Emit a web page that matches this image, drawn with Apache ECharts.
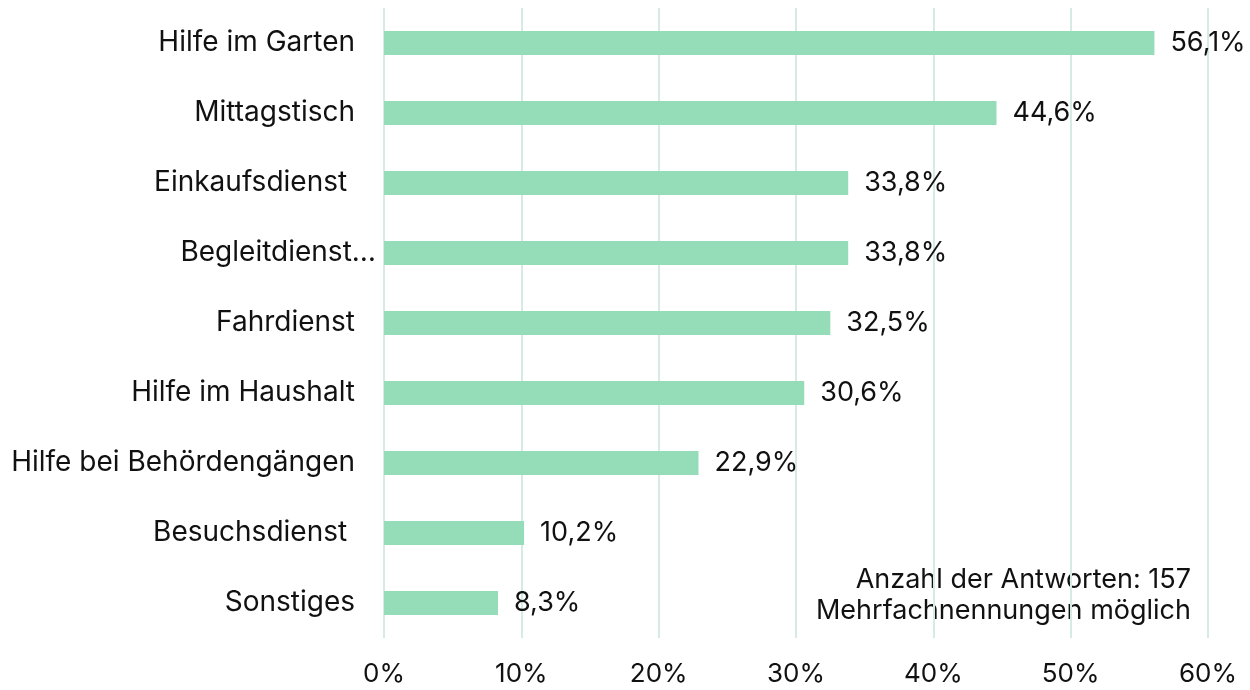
<!DOCTYPE html>
<html>
<head>
    <meta charset="utf-8"/>
    <title>Unterstützungsangebote</title>
    <script src="https://cdn.jsdelivr.net/npm/echarts@6/dist/echarts.min.js"></script>
    <style>
        html, body { margin: 0; padding: 0; background: #fff; }
        #main { width: 1250px; height: 690px; }
    </style>
</head>
<body>
<div id="main"></div>
<script type="text/javascript">
    // Daten (von unten nach oben wie im Bild gezeichnet)
    var categories = ['Sonstiges', 'Besuchsdienst ', 'Hilfe bei Behördengängen', 'Hilfe im Haushalt',
        'Fahrdienst', 'Begleitdienst…', 'Einkaufsdienst ', 'Mittagstisch', 'Hilfe im Garten'];
    var values = [8.3, 10.2, 22.9, 30.6, 32.5, 33.8, 33.8, 44.6, 56.1];
    var xTicks = [0, 10, 20, 30, 40, 50, 60];
    var noteLines = ['Anzahl der Antworten: 157', 'Mehrfachnennungen möglich'];

    var fontFamily = 'Inter, "Noto Sans", sans-serif';
    var myChart = echarts.init(document.getElementById('main'));

    var catData = categories.map(function (c) {
        if (c === 'Begleitdienst…') {
            return { value: c, textStyle: { padding: [0, -21, 0, 0] } };
        }
        return c;
    });

    myChart.setOption({
        animation: false,
        grid: { left: 384, right: 42, top: 8, bottom: 52 },
        xAxis: {
            type: 'value',
            min: xTicks[0],
            max: xTicks[xTicks.length - 1],
            interval: 10,
            axisLine: { show: false },
            axisTick: { show: false },
            splitLine: { show: true, lineStyle: { color: '#d5ebe3', width: 2 } },
            axisLabel: {
                formatter: '{value}%',
                margin: 23,
                color: '#111',
                fontSize: 26,
                fontFamily: fontFamily
            }
        },
        yAxis: {
            type: 'category',
            data: catData,
            axisLine: { show: false },
            axisTick: { show: false },
            axisLabel: {
                margin: 29,
                color: '#111',
                fontSize: 28,
                fontFamily: fontFamily
            }
        },
        series: [{
            type: 'bar',
            data: values,
            barWidth: 24,
            itemStyle: { color: '#95dcb9' },
            label: {
                show: true,
                position: 'right',
                distance: 16,
                color: '#111',
                fontSize: 27,
                fontFamily: fontFamily,
                formatter: function (p) {
                    return p.value.toFixed(1).replace('.', ',') + '%';
                }
            }
        }],
        graphic: noteLines.map(function (t, i) {
            return {
                type: 'text',
                x: 1191,
                y: 580 + i * 31,
                style: {
                    text: t,
                    align: 'right',
                    verticalAlign: 'middle',
                    fill: '#111',
                    fontSize: 27,
                    fontFamily: fontFamily
                }
            };
        })
    });
</script>
</body>
</html>
